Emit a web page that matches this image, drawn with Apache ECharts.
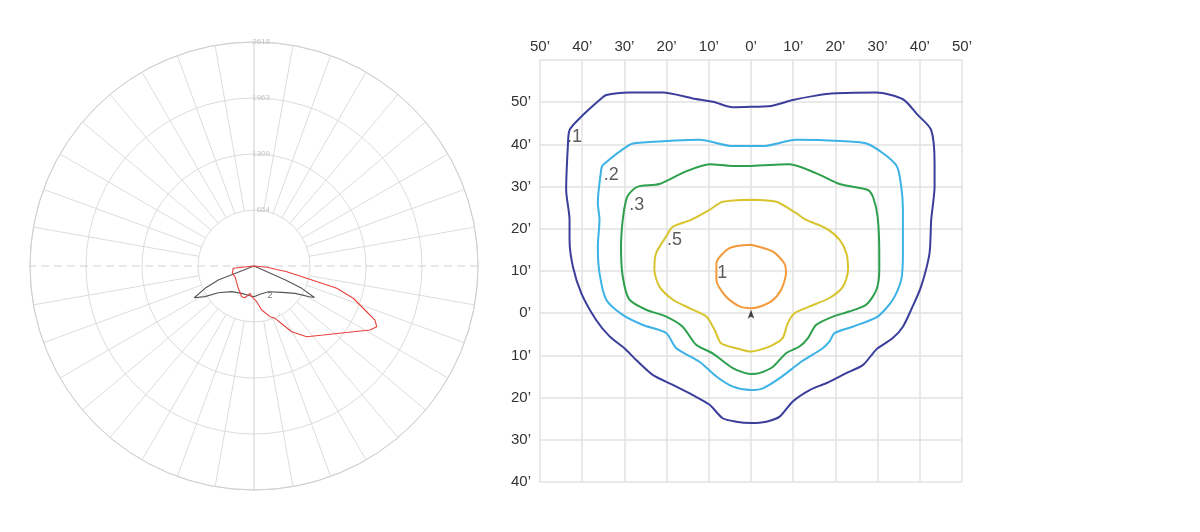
<!DOCTYPE html>
<html>
<head>
<meta charset="utf-8">
<script src="https://cdn.jsdelivr.net/npm/echarts@6/dist/echarts.min.js"></script>
<style>
html,body{margin:0;padding:0;background:#fff;}
#chart{width:1200px;height:532px;}
</style>
</head>
<body>
<div id="chart"></div>
<script>
// ---------- Polar (luminous intensity, cd) ----------
// gamma measured from nadir, negative = left half, positive = right half
const polarRingValues = [654, 1309, 1963, 2618];
const polarMax = 2618;
const blackGamma = [-90, -68.6, -65.5, -62, -58, -53.2, -41, -24.3, -7.7, 0, 12, 29, 46.5, 56.3, 61, 62.5, 64.9, 66, 90];
const blackCd    = [0, 448, 629, 790, 676, 521, 397, 351, 351, 359, 338, 344, 447, 576, 741, 796, 616, 397, 0];
const redGamma = [-90, -84, -71.4, -60.6, -35.1, -21.8, -15.9, -8.3, -4.3, 4.3, 9.9, 17.5, 21.9, 26.4, 29.8, 36.7, 45.1, 56.5, 61.1, 63.7, 65.9, 67.9, 72, 74.9, 76.9, 80.1, 84.2, 90];
const redCd    = [0, 243, 268, 255, 319, 387, 386, 323, 360, 418, 522, 621, 659, 770, 885, 1031, 1143, 1392, 1549, 1600, 1549, 1421, 1220, 1002, 632, 388, 150, 0];
const polarLabel = {text: '2', gamma: 28, cd: 397};

// ---------- Isolux diagram ----------
const xTicks = [-50, -40, -30, -20, -10, 0, 10, 20, 30, 40, 50];
const yTicks = [-40, -30, -20, -10, 0, 10, 20, 30, 40, 50, 60];
const levelNames = ['.1', '.2', '.3', '.5', '1'];
const contour01 = [[0,48.9],[4.8,49.1],[9.9,50.5],[15,51.5],[20.2,52.1],[29.7,52.3],[36,50.7],[39.5,47],[42.7,43.4],[43.5,35.5],[43.5,30],[42.7,22.1],[42.3,14.2],[40.3,6.3],[38.3,1.6],[36,-3.2],[33.6,-5.9],[30,-8.3],[28.9,-9.5],[26.5,-12.3],[22.6,-14.2],[17.8,-16.6],[13.9,-18.2],[9.9,-20.9],[6.8,-24.5],[3.6,-25.7],[0,-26],[-3.5,-25.7],[-6.7,-24.9],[-9.8,-21.7],[-13.8,-19.4],[-18.5,-17],[-23.3,-14.6],[-27.2,-11.1],[-30,-8.3],[-33.5,-5.5],[-36.7,-1.6],[-40.2,4.7],[-42.2,11],[-43,17.4],[-43,22.1],[-43.8,29.2],[-43.4,39.5],[-43,43.4],[-40.6,46.2],[-35.9,50.5],[-34.3,51.7],[-28.8,52.3],[-20.9,52.3],[-13.8,50.9],[-9,50.1],[-4.3,48.8],[0,48.9]];
const contour02 = [[0,39.6],[2.8,39.6],[10.7,41.1],[21,40.8],[27.7,40.1],[34.4,35.1],[35.6,30],[36,24.5],[36,14.2],[35.6,7.9],[33.6,3.2],[30,-0.8],[24.1,-3.2],[19.8,-4.7],[18.6,-6.7],[17,-8.3],[11.9,-11.5],[6.8,-15.4],[2.8,-17.8],[0,-18.2],[-4.3,-17.4],[-8.2,-15],[-12.2,-11.5],[-17.7,-8.3],[-20.1,-4.7],[-25.6,-2.8],[-30.4,-0.4],[-34.3,3.2],[-35.9,9.5],[-36.3,15.8],[-35.9,22.1],[-36.3,26.1],[-35.5,34],[-35.1,35.1],[-28.8,39.9],[-26.4,40.4],[-12.2,41.1],[-4.3,39.6],[0,39.6]];
const contour03 = [[0,34.9],[9.1,35.3],[15.4,33.2],[21,30.6],[27.7,29.2],[28.9,27.6],[30,22.9],[30.4,14.2],[30.4,10.3],[29.7,5.5],[27.3,2],[23.3,0.4],[19.4,-0.8],[15.4,-2.8],[13.5,-5.9],[11.5,-7.9],[8.3,-9.5],[5.2,-12.7],[2,-14.2],[0,-14.4],[-4.3,-13],[-9.1,-9.5],[-13,-7.5],[-16.2,-3.2],[-20.1,-0.8],[-24.8,0.8],[-28.8,3.2],[-30.4,8.7],[-30.8,15.8],[-30.4,22.1],[-29.6,26.8],[-28.8,28.4],[-26.8,30],[-21.7,30.6],[-15.4,33.6],[-9.8,35.3],[-4.3,34.9],[0,34.9]];
const contour05 = [[0,26.9],[6,26.4],[10.7,23.7],[13.1,22.1],[17.8,20.1],[21,17.4],[22.6,14.2],[23,10.3],[21.8,6.3],[18.6,3.6],[13.9,1.6],[10.3,0],[8.7,-2.4],[7.5,-5.9],[5.2,-7.5],[2,-8.7],[0,-9.1],[-3.5,-8.3],[-7.1,-7.1],[-8.6,-4],[-10.6,-0.8],[-14.6,1.2],[-18.5,3.2],[-21.7,6.3],[-22.9,10.3],[-22.5,14.2],[-20.1,18.2],[-18.5,20.5],[-14.2,22.1],[-9.8,24.5],[-6.7,26.4],[0,26.9]];
const contour1 = [[0,16.2],[5.2,14.6],[7.9,11.8],[8.3,9.5],[7.1,5.5],[4.8,2.8],[1.6,1.4],[0,1.2],[-2.7,1.6],[-5.9,3.9],[-8.2,7.9],[-8.2,11.8],[-5.1,15.4],[0,16.2]];
const levelLabelPos = [[-41.8,41.8],[-33.1,32.8],[-27.1,25.7],[-18.1,17.4],[-6.8,9.5]];
const luminairePos = [[0,0.8]];

const levelColors = ['#3b3e9a', '#3cb2e6', '#2ea04d', '#d8c42e', '#f39a3c'];
const contours = [contour01, contour02, contour03, contour05, contour1];

// polar helper: nadir gamma -> angle axis value (0 at top, clockwise)
const toAng = g => 180 - g;
const toPolar = (gs, cds) => gs.map((g, i) => [cds[i], toAng(g)]);

const gridColor = '#dcdcdc';
const series = [];

// spokes (every 10 degrees, from first ring to outer ring)
const spokeData = [];
for (let a = 0; a < 360; a += 10) {
  if (a % 90 === 0) continue;
  spokeData.push([polarRingValues[0], a], [polarMax, a], '-');
}
series.push({
  type: 'line', coordinateSystem: 'polar', polarIndex: 0, data: spokeData,
  symbol: 'none', silent: true, connectNulls: false,
  lineStyle: {color: gridColor, width: 1}, z: 1
});
// vertical axis through centre
series.push({
  type: 'line', coordinateSystem: 'polar', data: [[polarMax, 0], [0, 0], [polarMax, 180]],
  symbol: 'none', silent: true, lineStyle: {color: '#d0d0d0', width: 1}, z: 1
});
// horizontal dashed axis
series.push({
  type: 'line', coordinateSystem: 'polar', data: [[polarMax, 90], [0, 0], [polarMax, 270]],
  symbol: 'none', silent: true, lineStyle: {color: '#d0d0d0', width: 1, type: [8, 5]}, z: 1
});
series.push({
  type: 'line', coordinateSystem: 'polar', data: toPolar(blackGamma, blackCd),
  symbol: 'none', lineStyle: {color: '#555', width: 1.1}, z: 5
});
series.push({
  type: 'line', coordinateSystem: 'polar', data: toPolar(redGamma, redCd),
  symbol: 'none', lineStyle: {color: '#e8413c', width: 1.1}, z: 6
});
series.push({
  type: 'scatter', coordinateSystem: 'polar', data: [[polarLabel.cd, toAng(polarLabel.gamma)]],
  symbolSize: 0, silent: true,
  label: {show: true, formatter: polarLabel.text, position: 'inside', color: '#555', fontSize: 9, fontFamily: 'Liberation Sans'}
});

// contours
contours.forEach((c, i) => {
  series.push({
    type: 'line', xAxisIndex: 0, yAxisIndex: 0, data: c, symbol: 'none',
    smooth: 0.25, lineStyle: {color: levelColors[i], width: 2}, z: 5
  });
});
series.push({
  type: 'scatter', xAxisIndex: 0, yAxisIndex: 0,
  data: levelLabelPos.map((p, i) => ({value: p, name: levelNames[i]})),
  symbolSize: 0, silent: true,
  label: {show: true, formatter: p => p.name, position: 'inside', color: '#333', fontSize: 18, fontFamily: 'Liberation Sans'}
});
series.push({
  type: 'scatter', xAxisIndex: 0, yAxisIndex: 0, data: luminairePos,
  symbol: 'arrow', symbolSize: [5, 9], itemStyle: {color: '#111'}, z: 8
});

const chart = echarts.init(document.getElementById('chart'), null, {renderer: 'canvas'});
chart.setOption({
  animation: false,
  backgroundColor: '#fff',
  polar: {center: [254, 266], radius: 224},
  angleAxis: {
    type: 'value', min: 0, max: 360, interval: 10, startAngle: 90, clockwise: true,
    axisLine: {show: true, lineStyle: {color: '#cfcfcf', width: 1}},
    axisTick: {show: false}, axisLabel: {show: false}, splitLine: {show: false}
  },
  radiusAxis: {
    type: 'value', min: 0, max: polarMax, interval: polarMax / 4,
    axisLine: {show: false}, axisTick: {show: false},
    axisLabel: {show: true, color: '#c4c4c4', fontSize: 8, fontFamily: 'Liberation Sans',
      formatter: v => v === 0 ? '' : String(Math.floor(v + 0.01)), margin: -16, verticalAlign: 'middle'},
    splitLine: {show: true, lineStyle: {color: gridColor, width: 1}}
  },
  grid: {left: 540, top: 60, width: 422, height: 422},
  xAxis: {
    type: 'value', position: 'top', min: -50, max: 50, interval: 10,
    axisLine: {show: false}, axisTick: {show: false},
    axisLabel: {color: '#333', fontSize: 15, fontFamily: 'Liberation Sans', margin: 6,
      formatter: v => Math.abs(v) + '\u2019'},
    splitLine: {show: true, lineStyle: {color: '#e2e2e2', width: 1.5}}
  },
  yAxis: {
    type: 'value', min: -40, max: 60, interval: 10,
    axisLine: {show: false}, axisTick: {show: false},
    axisLabel: {color: '#333', fontSize: 15, fontFamily: 'Liberation Sans', margin: 9,
      formatter: v => v === 60 ? '' : Math.abs(v) + '\u2019'},
    splitLine: {show: true, lineStyle: {color: '#e2e2e2', width: 1.5}}
  },
  series: series
});
</script>
</body>
</html>
